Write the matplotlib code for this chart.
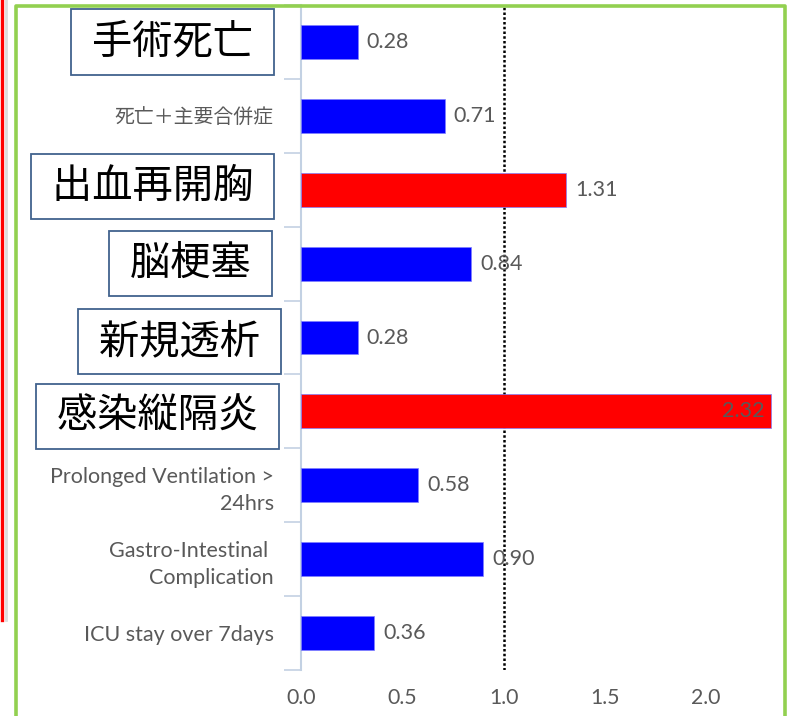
import matplotlib
matplotlib.use("Agg")
import matplotlib.pyplot as plt
from matplotlib.lines import Line2D

plt.rcParams['font.family'] = ['Lato', 'Noto Sans CJK JP', 'DejaVu Sans']

# data, top to bottom
categories = ['手術死亡', '死亡＋主要合併症', '出血再開胸', '脳梗塞', '新規透析',
              '感染縦隔炎', 'Prolonged Ventilation >\n24hrs',
              'Gastro-Intestinal \nComplication', 'ICU stay over 7days']
values = [0.28, 0.71, 1.31, 0.84, 0.28, 2.32, 0.58, 0.90, 0.36]
highlight = [False, False, True, False, False, True, False, False, False]
boxed = [True, False, True, True, True, True, False, False, False]
x_ticks = [0.0, 0.5, 1.0, 1.5, 2.0]

W, H = 788, 716
fig = plt.figure(figsize=(W / 100, H / 100), dpi=100)
ax = fig.add_axes([301 / W, 1 - 670 / H, (777 - 301) / W, (670 - 5) / H])

ypos = list(range(len(categories)))
colors = ['#ff0000' if h else '#0000ff' for h in highlight]
ax.barh(ypos, values, height=0.46, color=colors, edgecolor='#8080ff', linewidth=0.5, zorder=3)
ax.axvline(1.0, color='black', linestyle=(0, (1, 0.9)), linewidth=1.8, zorder=2)

ax.set_xlim(0, 2.35)
ax.set_ylim(len(categories) - 0.5, -0.5)
ax.set_xticks(x_ticks)
ax.set_xticklabels([f'{t:.1f}' for t in x_ticks], fontsize=15.3, color='#595959')
ax.tick_params(axis='x', length=0, pad=13)

ax.set_yticks(ypos)
ax.set_yticklabels(['' if b else c for c, b in zip(categories, boxed)],
                   fontsize=15.5, color='#595959', linespacing=1.4)
for lbl in ax.get_yticklabels():
    if not lbl.get_text().isascii():
        lbl.set_fontsize(14.3)
ax.tick_params(axis='y', which='major', length=0, pad=19.5)
ax.set_yticks([i - 0.5 for i in range(len(categories) + 1)], minor=True)
ax.tick_params(axis='y', which='minor', length=12.5, width=1.2, color='#c3d1e3')

for s in ['top', 'right', 'bottom']:
    ax.spines[s].set_visible(False)
ax.spines['left'].set_color('#c3d1e3')
ax.spines['left'].set_linewidth(1.5)

# value labels
for y, v in zip(ypos, values):
    if v > 2.2:
        ax.annotate(f'{v:.2f}', xy=(v, y), xytext=(-6, 0), textcoords='offset pixels',
                    ha='right', va='center', fontsize=15.5, color='#595959', zorder=4)
    else:
        ax.annotate(f'{v:.2f}', xy=(v, y), xytext=(9, 0), textcoords='offset pixels',
                    ha='left', va='center', fontsize=15.5, color='#595959', zorder=4)

# boxed Japanese labels
box_dx = [-39, 0, -39, -41, -32, -34, 0, 0, 0]
box_dy = [0, 0, 3, 0, -4, -5, 0, 0, 0]
for y, c, b, dx, dy in zip(ypos, categories, boxed, box_dx, box_dy):
    if not b:
        continue
    ax.annotate(' ' + c + ' ', xy=(0, y), xycoords=('axes fraction', 'data'),
                xytext=(dx, dy), textcoords='offset pixels', ha='right', va='center',
                fontsize=29, family=['Noto Sans CJK JP'], color='black',
                bbox=dict(boxstyle='square,pad=0.3', fc='white', ec='#41628e', lw=1.3),
                annotation_clip=False, zorder=5)

# frame decorations
fig.add_artist(Line2D([2 / W, 2 / W], [1, 1 - 620 / H], color='red', lw=2.4))
fig.add_artist(Line2D([5.5 / W, 5.5 / W], [1, 1 - 620 / H], color='#dcdcdc', lw=2))
gx0, gx1, gy = 15.5 / W, 785 / W, 1 - 5.5 / H
fig.add_artist(Line2D([gx0, gx0, gx1, gx1], [0, gy, gy, 0], color='#92d050', lw=2.6))

fig.savefig('out.png', dpi=100)
